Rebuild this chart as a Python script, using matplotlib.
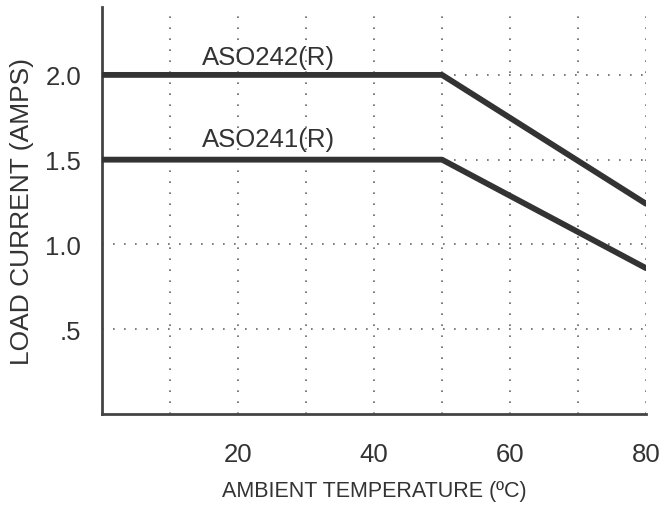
import numpy as np
import matplotlib
matplotlib.use('Agg')
import matplotlib.pyplot as plt

### Derating curves: load current vs ambient temperature

temp = [0, 50, 80]
aso242 = [2.0, 2.0, 1.24]
aso241 = [1.5, 1.5, 0.86]
series_names = ['ASO242(R)', 'ASO241(R)']
label_pos = [(14.7, 2.066), (14.7, 1.582)]

x_ticks = [20, 40, 60, 80]
y_ticks = [0.5, 1.0, 1.5, 2.0]
y_ticklabels = ['.5', '1.0', '1.5', '2.0']

plt.rcParams['font.family'] = ['Liberation Sans', 'DejaVu Sans']
ink = '#333333'

fig = plt.figure(figsize=(6.68, 5.06), dpi=100)
ax = fig.add_axes([0.153, 0.18, 0.814, 0.804])

# dotted grid every 10 degrees / 0.5 amps
dots = (0, (1, 5.6))
for xv in np.arange(10, 81, 10):
  ax.axvline(xv, color='#666666', linestyle=dots, linewidth=1.2, zorder=1)
for yv in y_ticks:
  ax.axhline(yv, color='#666666', linestyle=dots, linewidth=1.2, zorder=1)

ax.plot(temp, aso242, color=ink, linewidth=4.2, solid_capstyle='round', zorder=3)
ax.plot(temp, aso241, color=ink, linewidth=4.2, solid_capstyle='round', zorder=3)

for name, (tx, ty) in zip(series_names, label_pos):
  ax.text(tx, ty, name, fontsize=18.5, color=ink, va='baseline', ha='left')

ax.set_xlim(0, 80)
ax.set_ylim(0, 2.4)
ax.set_xticks(x_ticks)
ax.set_yticks(y_ticks)
ax.set_yticklabels(y_ticklabels)
ax.tick_params(length=0, labelsize=18.5, colors=ink)
ax.tick_params(axis='y', pad=15)
ax.tick_params(axis='x', pad=20)

ax.spines['top'].set_visible(False)
ax.spines['right'].set_visible(False)
for s in ['left', 'bottom']:
  ax.spines[s].set_color('#444444')
  ax.spines[s].set_linewidth(2)

ax.set_xlabel('AMBIENT TEMPERATURE (ºC)', fontsize=15.5, color=ink, labelpad=10)
ax.set_ylabel('LOAD CURRENT (AMPS)', fontsize=19, color=ink, labelpad=8)

plt.savefig('out.png', dpi=100)
